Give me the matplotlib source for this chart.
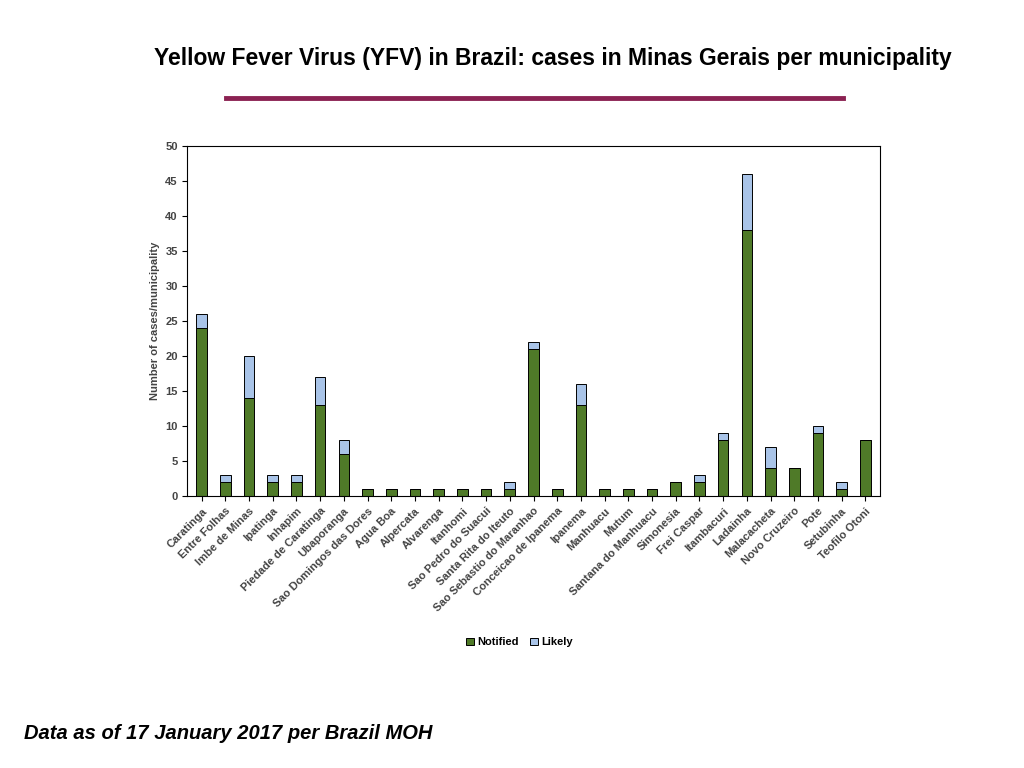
import numpy as np
import matplotlib.pyplot as plt

plt.rcParams['font.family'] = 'Liberation Sans'


def PlotCases(names, notified, likely):

    """
    This function plots the stacked bars of notified and likely cases per municipality
    and saves the figure to out.png. It doesn't return anything.
    """

    fig = plt.figure(figsize=(10.24, 7.68), dpi=100)
    fig.text(0.54, 0.924, "Yellow Fever Virus (YFV) in Brazil: cases in Minas Gerais per municipality",
             ha='center', va='center', fontsize=16.5, fontweight='bold')
    fig.add_artist(plt.Line2D([0.221, 0.823], [0.872, 0.872], color='#8B2252', linewidth=3.5))
    fig.text(0.023, 0.045, "Data as of 17 January 2017 per Brazil MOH", ha='left', va='center',
             fontsize=14.5, fontweight='bold', fontstyle='italic')

    ax = fig.add_axes([0.183, 0.354, 0.676, 0.456])
    x = np.arange(len(names))
    ax.bar(x, notified, width=0.45, color='#4F7A28', edgecolor='black', linewidth=0.7, label='Notified')
    ax.bar(x, likely, width=0.45, bottom=notified, color='#A9C4E8', edgecolor='black', linewidth=0.7, label='Likely')
    ax.set_xlim(-0.6, len(names) - 0.4)
    ax.set_ylim(0, 50)
    ax.set_yticks(range(0, 51, 5))
    ax.set_xticks(x)
    ax.set_xticklabels(names, rotation=45, ha='right', rotation_mode='anchor', fontsize=8,
                       fontweight='bold', color='#444444')
    ax.tick_params(axis='y', labelsize=8, labelcolor='#444444')
    for lab in ax.get_yticklabels():
        lab.set_fontweight('bold')
    ax.set_ylabel("Number of cases/municipality", fontsize=8, fontweight='bold', color='#444444')
    ax.legend(loc='upper center', bbox_to_anchor=(0.48, -0.375), ncol=2, frameon=False,
              handlelength=0.7, handleheight=0.7, columnspacing=1.0, handletextpad=0.3,
              prop={'weight': 'bold', 'size': 8})

    plt.savefig("out.png", dpi=100)


def main():

    """
    Values read off the picture, per municipality.
    """

    names = ["Caratinga", "Entre Folhas", "Imbe de Minas", "Ipatinga", "Inhapim", "Piedade de Caratinga",
             "Ubaporanga", "Sao Domingos das Dores", "Agua Boa", "Alpercata", "Alvarenga", "Itanhomi",
             "Sao Pedro do Suacui", "Santa Rita do Iteuto", "Sao Sebastio do Maranhao", "Conceicao de Ipanema",
             "Ipanema", "Manhuacu", "Mutum", "Santana do Manhuacu", "Simonesia", "Frei Caspar", "Itambacuri",
             "Ladainha", "Malacacheta", "Novo Cruzeiro", "Pote", "Setubinha", "Teofilo Otoni"]
    notified = np.array([24, 2, 14, 2, 2, 13, 6, 1, 1, 1, 1, 1, 1, 1, 21, 1, 13, 1, 1, 1, 2, 2, 8, 38, 4, 4, 9, 1, 8])
    likely = np.array([2, 1, 6, 1, 1, 4, 2, 0, 0, 0, 0, 0, 0, 1, 1, 0, 3, 0, 0, 0, 0, 1, 1, 8, 3, 0, 1, 1, 0])

    PlotCases(names, notified, likely)


if __name__ == "__main__":
    main()
